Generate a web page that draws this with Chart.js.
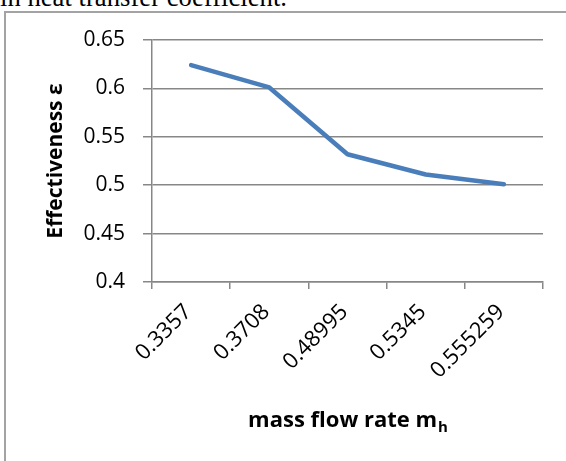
<!DOCTYPE html>
<html>
<head>
<meta charset="utf-8">
<script src="https://cdn.jsdelivr.net/npm/chart.js@4"></script>
<style>
  html, body { margin: 0; padding: 0; background: #fff; overflow: hidden; }
  #wrap { position: relative; width: 566px; height: 461px; }
  #frame { position: absolute; left: 4px; top: 11px; width: 600px; height: 500px;
           border-left: 2px solid #a3a3a3; border-top: 2px solid #a3a3a3; }
  #caption { position: absolute; left: 0; top: -16px; font: 26.7px "Liberation Serif", serif;
             line-height: 1; white-space: nowrap; color: #000; }
  #chart { position: absolute; left: 0; top: 0; }
</style>
</head>
<body>
<div id="wrap">
  <div id="caption">in heat transfer coefficient.</div>
  <div id="frame"></div>
  <canvas id="chart" width="566" height="461"></canvas>
</div>
<script>
// values
const massFlowLabels = ['0.3357', '0.3708', '0.48995', '0.5345', '0.555259'];
const effectiveness = [0.624, 0.601, 0.532, 0.511, 0.501];
const yTicks = [0.4, 0.45, 0.5, 0.55, 0.6, 0.65];

const gridColor = '#878787';
const fontFamily = '"Open Sans", sans-serif';

// x title with subscript h, drawn under the axis
const xTitlePlugin = {
    id: 'xTitle',
    afterDraw(chart) {
        const ctx = chart.ctx;
        const area = chart.chartArea;
        const main = 'mass flow rate m';
        const sub = 'h';
        ctx.save();
        ctx.fillStyle = '#000';
        ctx.textBaseline = 'alphabetic';
        ctx.textAlign = 'left';
        ctx.font = 'bold 22px ' + fontFamily;
        const wMain = ctx.measureText(main).width;
        ctx.font = 'bold 15px ' + fontFamily;
        const wSub = ctx.measureText(sub).width;
        const x0 = (area.left + area.right) / 2 - (wMain + wSub) / 2;
        ctx.font = 'bold 22px ' + fontFamily;
        ctx.fillText(main, x0, 427);
        ctx.font = 'bold 15px ' + fontFamily;
        ctx.fillText(sub, x0 + wMain + 1, 432);
        ctx.restore();
    }
};

new Chart(document.getElementById('chart'), {
    type: 'line',
    data: {
        labels: massFlowLabels,
        datasets: [{
            data: effectiveness,
            borderColor: '#4A7EBB',
            borderWidth: 4.5,
            borderCapStyle: 'round',
            borderJoinStyle: 'round',
            pointRadius: 0,
            tension: 0,
            fill: false
        }]
    },
    options: {
        responsive: false,
        animation: false,
        layout: { padding: { top: 40, right: 23, bottom: 0, left: 0 } },
        plugins: { legend: { display: false }, tooltip: { enabled: false } },
        scales: {
            x: {
                offset: true,
                grid: { offset: true, drawOnChartArea: false, tickLength: 7, color: gridColor, lineWidth: 1.5 },
                border: { color: gridColor, width: 1.5 },
                ticks: {
                    minRotation: 45, maxRotation: 45, padding: 10, labelOffset: -3,
                    color: '#000', font: { family: fontFamily, size: 22 }
                },
                afterFit: s => { s.height = 179; }
            },
            y: {
                min: 0.4,
                max: 0.65,
                afterBuildTicks: s => { s.ticks = yTicks.map(v => ({ value: v })); },
                grid: { color: gridColor, lineWidth: 1.5, tickLength: 9 },
                border: { color: gridColor, width: 1.5 },
                ticks: {
                    padding: 18, color: '#000',
                    font: { family: fontFamily, size: 21 },
                    callback: v => String(Number(v.toFixed(2)))
                },
                title: {
                    display: true, text: 'Effectiveness ε', color: '#000',
                    font: { family: fontFamily, size: 21, weight: 'bold' },
                    padding: { top: 43, bottom: 0 }
                },
                afterFit: s => { s.width = 152; }
            }
        }
    },
    plugins: [xTitlePlugin]
});
</script>
</body>
</html>
